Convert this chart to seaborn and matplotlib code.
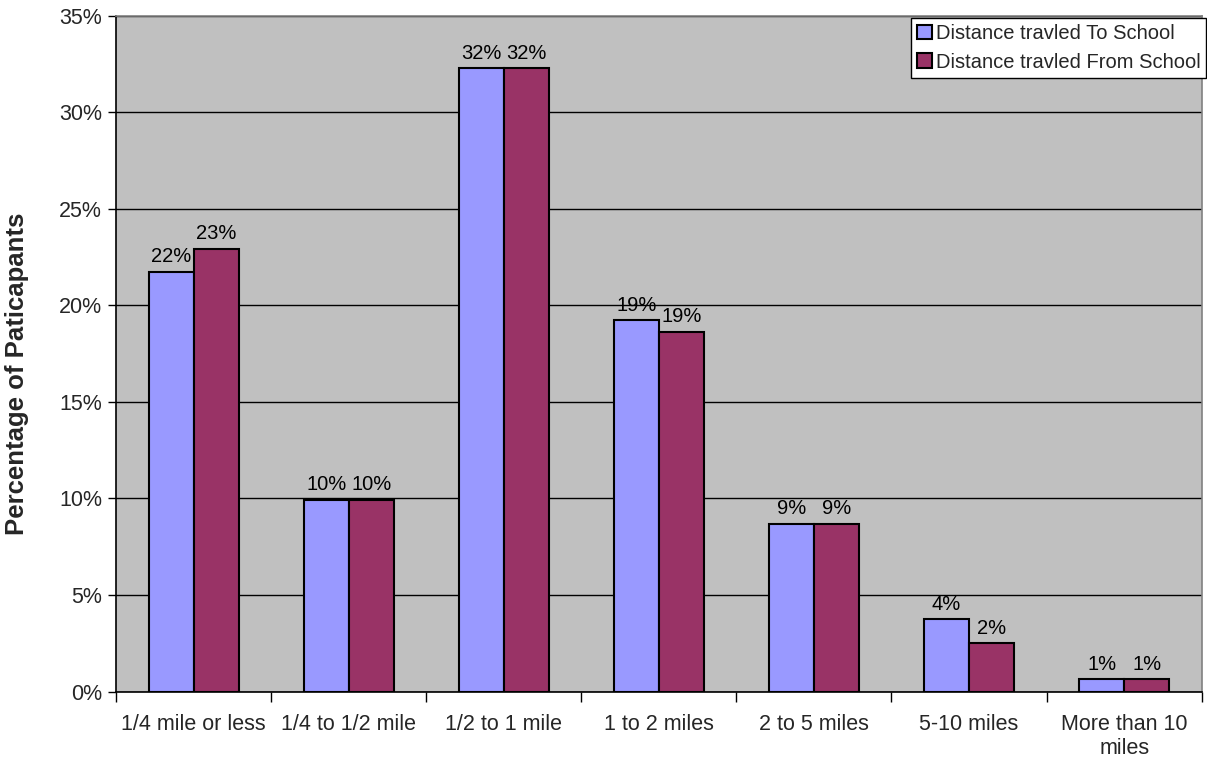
import pandas as pd
import matplotlib
matplotlib.use("Agg")
import matplotlib.pyplot as plt
import seaborn as sns
from matplotlib.ticker import FuncFormatter, FixedLocator

categories = ['1/4 mile or less', '1/4 to 1/2 mile', '1/2 to 1 mile', '1 to 2 miles',
              '2 to 5 miles', '5-10 miles', 'More than 10\nmiles']
to_school = [21.75, 9.92, 32.3, 19.23, 8.68, 3.74, 0.63]
from_school = [22.94, 9.92, 32.3, 18.64, 8.68, 2.50, 0.63]
series_names = ['Distance travled To School', 'Distance travled From School']

df = pd.DataFrame({
    'Distance': categories * 2,
    'Percent': to_school + from_school,
    'Series': [series_names[0]] * len(categories) + [series_names[1]] * len(categories),
})

sns.set_style('white')
plt.rcParams['font.family'] = ['Liberation Sans', 'DejaVu Sans']

fig = plt.figure(figsize=(12.07, 7.68), dpi=100)
ax = fig.add_axes([0.0961, 0.0996, 0.8995, 0.8796])
ax.set_facecolor('#C0C0C0')

sns.barplot(data=df, x='Distance', y='Percent', hue='Series', order=categories,
            hue_order=series_names, palette=['#9999FF', '#993366'], width=0.58,
            edgecolor='black', linewidth=1.5, saturation=1, ax=ax, zorder=3)

for cont in ax.containers:
    ax.bar_label(cont, labels=[f'{v:.0f}%' for v in cont.datavalues], padding=4,
                 fontsize=14.5, color='black')

ax.set_ylim(0, 35)
ax.set_xlim(-0.5, len(categories) - 0.5)
ax.set_yticks(range(0, 36, 5))
ax.yaxis.set_major_formatter(FuncFormatter(lambda v, p: f'{v:.0f}%'))
ax.yaxis.grid(True, color='black', linewidth=1)
ax.set_axisbelow(True)

# x ticks at category boundaries, labels at centres
ax.xaxis.set_major_locator(FixedLocator([i - 0.5 for i in range(len(categories) + 1)]))
ax.xaxis.set_minor_locator(FixedLocator(range(len(categories))))
ax.xaxis.set_major_formatter(FuncFormatter(lambda v, p: ''))
ax.set_xticklabels(categories, minor=True)
ax.tick_params(axis='x', which='major', direction='out', length=7, width=1, color='black', bottom=True)
ax.tick_params(axis='x', which='minor', length=0, labelsize=15.5, pad=16)
ax.tick_params(axis='y', direction='out', length=6, width=1, color='black', left=True, labelsize=15.5, pad=4)

ax.set_xlabel('')
ax.set_ylabel('Percentage of Paticapants', fontsize=18.5, fontweight='bold')
ax.yaxis.set_label_coords(-0.080, 0.47)

for side in ['left', 'bottom']:
    ax.spines[side].set_color('black')
    ax.spines[side].set_linewidth(1.2)
for side in ['top', 'right']:
    ax.spines[side].set_color('#808080')
    ax.spines[side].set_linewidth(1.2)

handles, labels = ax.get_legend_handles_labels()
ax.get_legend().remove()
leg = fig.legend(handles, labels, loc='upper right', bbox_to_anchor=(0.9995, 0.976),
                 fontsize=14.5, frameon=True, fancybox=False, edgecolor='black',
                 framealpha=1, borderpad=0.3, handlelength=0.7, handleheight=0.7,
                 handletextpad=0.2, labelspacing=0.45, borderaxespad=0)
leg.get_frame().set_linewidth(1)

fig.savefig('out.png', dpi=100, facecolor='white')
